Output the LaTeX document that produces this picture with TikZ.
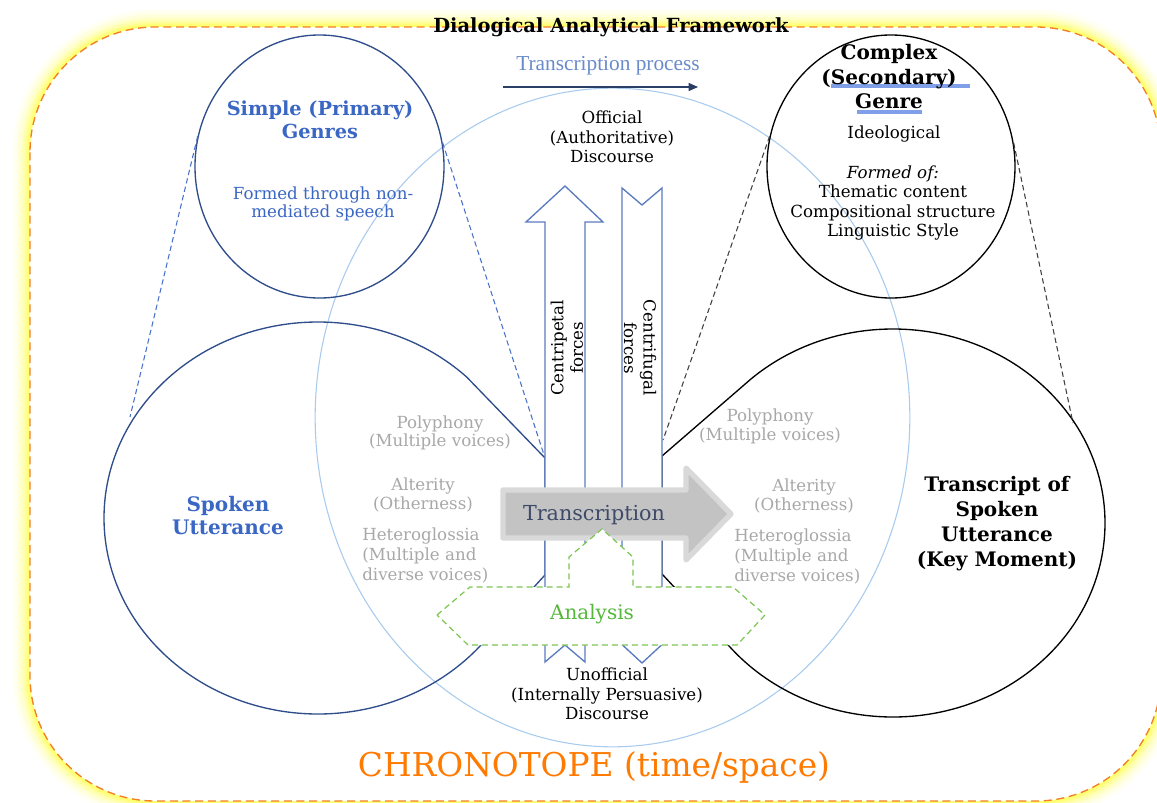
\documentclass[tikz,border=0pt]{standalone}
\usepackage{fontspec}
\setmainfont{DejaVu Serif}
\newfontfamily\timesfont{Liberation Serif}
\usetikzlibrary{shapes.geometric,arrows.meta,calc}
\definecolor{navy}{HTML}{2F4D8A}
\definecolor{midblue}{HTML}{3A66C4}
\definecolor{arrowblue}{HTML}{5B7BC0}
\definecolor{dashblue}{HTML}{4A72C8}
\definecolor{skyline}{HTML}{A8CBEE}
\definecolor{graytext}{HTML}{A8A8A8}
\definecolor{anagreen}{HTML}{7CC653}
\definecolor{anatext}{HTML}{55B83B}
\definecolor{framedash}{HTML}{F07F25}
\definecolor{glowc}{HTML}{FFFF40}
\definecolor{chronoc}{HTML}{FF7A00}
\definecolor{hilite}{HTML}{7F9FE8}
\definecolor{tpblue}{HTML}{6A8BCB}
\definecolor{tpline}{HTML}{2B3E66}
\definecolor{grayfill}{HTML}{C3C3C3}
\definecolor{grayedge}{HTML}{D9D9D9}
\definecolor{transtext}{HTML}{3E4A68}
\tikzset{
  txt/.style={inner sep=0pt, align=center, font=\fontsize{12.5}{14.6}\selectfont},
  gtxt/.style={txt, text=graytext},
  bhead/.style={inner sep=0pt, align=center, font=\bfseries\fontsize{15}{18.6}\selectfont},
  bluedash/.style={draw=dashblue, dash pattern=on 4pt off 2.5pt, line width=0.8pt},
  blackdash/.style={draw=black!75, dash pattern=on 4pt off 2.5pt, line width=0.8pt},
  forcearrow/.style={draw=arrowblue, fill=white, line width=1pt, line join=miter},
  framepath/.style={rounded corners=94pt},
}
\begin{document}
\begin{tikzpicture}[x=0.75pt,y=-0.75pt]
\useasboundingbox (0,0) rectangle (1157,803);
% glowing frame
\foreach \w/\o in {26/0.07,20/0.1,15/0.14,11/0.2,7/0.28,4/0.4}{
  \draw[glowc, line width=\w pt, opacity=\o, framepath] (30,27) rectangle (1161,801);
}
\fill[white, framepath] (30,27) rectangle (1161,801);
\draw[framedash, dash pattern=on 6pt off 3.5pt, line width=1pt, framepath] (30,27) rectangle (1161,801);

% chronotope ellipse
\node[draw=skyline, line width=0.8pt, ellipse, minimum width=446pt, minimum height=494pt, inner sep=0pt] (chrono) at (612.5,417.5) {};

% spoken utterance shape
\coordinate (sptip) at (545,458);
\coordinate (spbot) at (545,575);
\draw[navy, line width=1pt, line join=round] (sptip) -- ($(318,518)+(-46:214 and 196)$) arc[start angle=-46, end angle=-319, x radius=214, y radius=196] -- (spbot) -- cycle;

% transcript shape
\coordinate (trtip) at (662,456);
\coordinate (trbot) at (662,574);
\draw[black, line width=1pt, line join=round] (trtip) -- ($(893,523)+(-132:212 and 194)$) arc[start angle=-132, end angle=139.5, x radius=212, y radius=194] -- (trbot) -- cycle;

% genre circles
\node[draw=navy, line width=1pt, ellipse, minimum width=186.75pt, minimum height=197.25pt, inner sep=0pt] (simple) at (319.5,166.5) {};
\node[draw=black, line width=1pt, ellipse, minimum width=186pt, minimum height=197.25pt, inner sep=0pt] (complex) at (891,166.5) {};

% dashed connectors
\coordinate (spL) at (130,417);
\coordinate (trL) at (663,440);
\coordinate (trR) at (1073,423);
\draw[bluedash] (simple.166) -- (spL);
\draw[bluedash] (simple.11) -- (sptip);
\draw[blackdash] (complex.166) -- (trL);
\draw[blackdash] (complex.11) -- (trR);

% force arrows
\draw[forcearrow] (545,662) -- (545,222) -- (526,222) -- (565,186) -- (603,222) -- (585,222) -- (585,662) -- (565,645) -- cycle;
\draw[forcearrow] (622,188) -- (642,205) -- (662,188) -- (662,627) -- (681,627) -- (642,663) -- (603,627) -- (622,627) -- cycle;

% transcription arrow
\draw[draw=grayedge, fill=grayfill, line width=4pt, line join=round] (503,490) -- (686,490) -- (686,468) -- (731,514) -- (686,560) -- (686,538) -- (503,538) -- cycle;
\node[inner sep=0pt, font=\fontsize{15.5}{18}\selectfont, text=transtext] (transc) at (594,515) {Transcription};

% analysis shape
\draw[draw=anagreen, fill=white, dash pattern=on 4.5pt off 3pt, line width=0.9pt] (437,615) -- (470,587) -- (569,587) -- (569,557) -- (602,529) -- (633,557) -- (633,587) -- (733,587) -- (765,615) -- (737,645) -- (468,645) -- cycle;
\node[inner sep=0pt, text=anatext, font=\fontsize{15}{18}\selectfont] (analysis) at (592,614) {Analysis};

% title and process arrow
\node[inner sep=0pt, font=\bfseries\fontsize{14.6}{16}\selectfont] (title) at (611,27) {Dialogical Analytical Framework};
\node[inner sep=0pt, font=\timesfont\fontsize{16}{19}\selectfont, text=tpblue] (tproc) at (608,66) {Transcription process};
\coordinate (tpa) at (503,87);
\coordinate (tpb) at (698,87);
\draw[tpline, line width=0.9pt, -{Triangle[length=7pt,width=6pt]}] (tpa) -- (tpb);

% central texts
\node[txt] (official) at (612,137) {Official\\(Authoritative)\\Discourse};
\node[txt] (unofficial) at (607,694) {Unofficial\\(Internally Persuasive)\\Discourse};
\node[txt, rotate=90] (cpet) at (567,348) {Centripetal\\forces};
\node[txt, rotate=-90] (cfug) at (640,348) {Centrifugal\\forces};

% simple genre texts
\node[inner sep=0pt, align=center, text=midblue, font=\bfseries\fontsize{14.5}{17.3}\selectfont] (simplehead) at (320,120) {Simple (Primary)\\Genres};
\node[txt, text=midblue, font=\fontsize{12.5}{13.5}\selectfont] (simplebody) at (323,204) {Formed through non-\\mediated speech};

% complex genre texts
\draw[hilite, line width=2.6pt] (831,86) -- (970,86);
\draw[hilite, line width=2.6pt] (857,112) -- (922,112);
\node[bhead, font=\bfseries\fontsize{15}{18.4}\selectfont] (complexhead) at (889,77) {Complex\\(Secondary)\\Genre};
\node[txt] (ideo) at (894,134) {Ideological};
\node[txt] (formed) at (893,203) {\itshape Formed of:\\Thematic content\\Compositional structure\\Linguistic Style};

% utterance titles
\node[bhead, text=midblue, font=\bfseries\fontsize{15}{17.3}\selectfont] (spoken) at (228,516) {Spoken\\Utterance};
\node[bhead, font=\bfseries\fontsize{15}{18.8}\selectfont] (transcript) at (997,524) {Transcript of\\Spoken\\Utterance\\(Key Moment)};

% gray concept texts, left
\node[gtxt, font=\fontsize{12.5}{13.5}\selectfont] (polyL) at (440,433) {Polyphony\\(Multiple voices)};
\node[gtxt, font=\fontsize{12.5}{14.2}\selectfont] (altL) at (423,494.5) {Alterity\\(Otherness)};
\node[gtxt, align=left, anchor=west, font=\fontsize{12.5}{15}\selectfont] (hetL) at (362,555) {Heteroglossia\\(Multiple and\\diverse voices)};
% gray concept texts, right
\node[gtxt, font=\fontsize{12.5}{14.2}\selectfont] (polyR) at (770,426.5) {Polyphony\\(Multiple voices)};
\node[gtxt, font=\fontsize{12.5}{14.2}\selectfont] (altR) at (804,495.5) {Alterity\\(Otherness)};
\node[gtxt, align=left, anchor=west, font=\fontsize{12.5}{15}\selectfont] (hetR) at (734,556.5) {Heteroglossia\\(Multiple and\\diverse voices)};

% chronotope label
\node[inner sep=0pt, text=chronoc, font=\fontsize{24.6}{28}\selectfont] (chronotope) at (594,767) {CHRONOTOPE (time/space)};
\end{tikzpicture}
\end{document}
